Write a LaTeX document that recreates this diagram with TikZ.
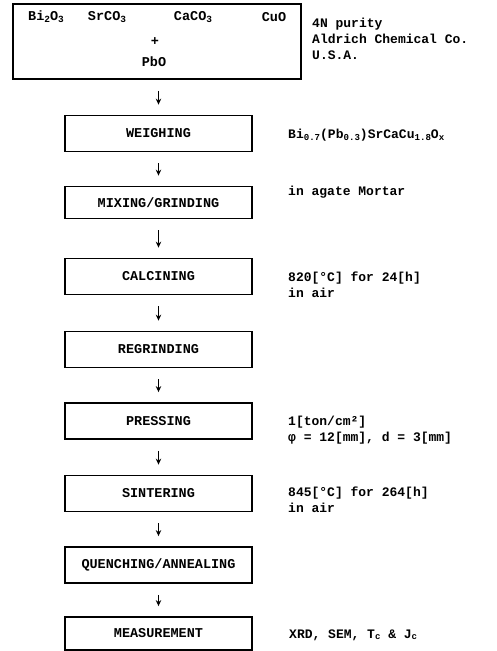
\documentclass[tikz,border=0pt]{standalone}
\usepackage{fontspec}
\setmainfont{Liberation Mono}
\usetikzlibrary{arrows.meta}
\newcommand{\lowsub}[1]{\raisebox{-0.25ex}{\scalebox{0.7}{#1}}}
\begin{document}
\begin{tikzpicture}[x=1pt,y=-1pt,
  every node/.style={font=\fontsize{13.5}{15}\selectfont\bfseries, inner sep=0pt},
  stepbox/.style={draw, line width=1.8pt, minimum width=187pt, minimum height=36pt},
  note/.style={anchor=west, align=left, font=\fontsize{13}{16}\selectfont\bfseries},
  flow/.style={line width=1.8pt, -{Stealth[length=6pt,width=5.5pt]}, shorten <=11pt, shorten >=10pt}]
\useasboundingbox (0,0) rectangle (497,651);
\clip (0,0) rectangle (497,651);

% raw materials
\node[draw, line width=1.8pt, minimum width=288pt, minimum height=75pt] (raw) at (157,41.5) {};
\node (bi)  at (46,17)  {Bi\lowsub{2}O\lowsub{3}};
\node (sr)  at (107,17) {SrCO\lowsub{3}};
\node (ca)  at (193,17) {CaCO\lowsub{3}};
\node (cu)  at (274,17) {CuO};
\node (plus) at (155,42) {+};
\node (pb)  at (154,62) {PbO};
\node[note] (src) at (312,39) {4N purity\\Aldrich Chemical Co.\\U.S.A.};

% process steps
\node[stepbox] (weigh) at (158.5,133.5) {WEIGHING};
\node[stepbox, minimum height=32pt] (mix) at (158.5,202.5) {MIXING/GRINDING};
\node[stepbox] (calc) at (158.5,276.5) {CALCINING};
\node[stepbox] (regr) at (158.5,349.5) {REGRINDING};
\node[stepbox] (press) at (158.5,421) {PRESSING};
\node[stepbox] (sint) at (158.5,493.5) {SINTERING};
\node[stepbox] (quen) at (158.5,565) {QUENCHING/ANNEALING};
\node[stepbox, minimum height=33pt] (meas) at (158.5,633.5) {MEASUREMENT};

% conditions
\node[note] (comp) at (288,135) {Bi\lowsub{0.7}(Pb\lowsub{0.3})SrCaCu\lowsub{1.8}O\lowsub{x}};
\node[note] (mort) at (288,192) {in agate Mortar};
\node[note] (calcn) at (288,285) {820[°C] for 24[h]\\in air};
\node[note] (pressn) at (288,430) {1[ton/cm²]\\φ = 12[mm], d = 3[mm]};
\node[note] (sintn) at (288,500) {845[°C] for 264[h]\\in air};
\node[note] (measn) at (289,635) {XRD, SEM, T\lowsub{c} \& J\lowsub{c}};

% arrows between steps
\draw[flow] (raw.south -| weigh.north) -- (weigh.north);
\draw[flow] (weigh) -- (mix);
\draw[flow] (mix) -- (calc);
\draw[flow] (calc) -- (regr);
\draw[flow] (regr) -- (press);
\draw[flow] (press) -- (sint);
\draw[flow] (sint) -- (quen);
\draw[flow] (quen) -- (meas);
\end{tikzpicture}
\end{document}
